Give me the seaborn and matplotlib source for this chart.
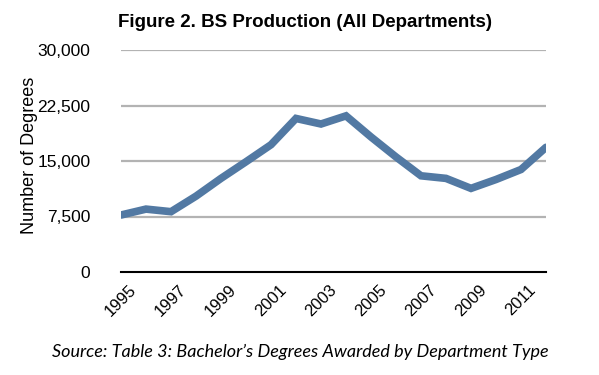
import numpy as np
import pandas as pd
import matplotlib
matplotlib.use("Agg")
import matplotlib.pyplot as plt
import seaborn as sns

# Data
years = list(range(1995, 2013))
degrees = [7700, 8500, 8150, 10250, 12650, 14900, 17200, 20750, 20000, 21100,
           18250, 15550, 13000, 12650, 11300, 12500, 13850, 16850]
y_ticks = [0, 7500, 15000, 22500, 30000]
x_label_years = [1995, 1997, 1999, 2001, 2003, 2005, 2007, 2009, 2011]

df = pd.DataFrame({"Year": years, "Degrees": degrees})

sns.set_style("white")
plt.rcParams['font.family'] = ['Liberation Sans', 'DejaVu Sans']
plt.rcParams['text.color'] = 'black'
plt.rcParams['axes.labelcolor'] = 'black'
plt.rcParams['xtick.color'] = 'black'
plt.rcParams['ytick.color'] = 'black'

fig = plt.figure(figsize=(5.99, 3.75), dpi=100)
ax = fig.add_axes([121/599, (375-272)/375, (546-121)/599, (272-50)/375])

# gridlines
for v in y_ticks[1:]:
    ax.axhline(v, color='#b3b3b3', lw=1.6, zorder=1)

sns.lineplot(data=df, x="Year", y="Degrees", ax=ax, color='#5279a3', lw=5.5,
             solid_joinstyle='miter', zorder=3)

ax.set_xlim(1995, 2012)
ax.set_ylim(0, 30000)
ax.set_yticks(y_ticks)
ax.set_yticklabels([f"{v:,}" for v in y_ticks], fontsize=12.5)
ax.set_xticks(years)
ax.set_xticklabels([str(y) if y in x_label_years else "" for y in years],
                   rotation=45, ha='center', va='top', fontsize=12)

for s in ['top', 'right', 'left']:
    ax.spines[s].set_visible(False)
ax.spines['bottom'].set_color('black')
ax.spines['bottom'].set_linewidth(1.5)
ax.tick_params(axis='x', direction='inout', length=9, width=1.3, color='black', pad=3)
ax.tick_params(axis='y', length=0, pad=22)

ax.set_xlabel("")
ax.set_ylabel("Number of Degrees", fontsize=13)
ax.yaxis.set_label_coords(-0.195, 0.525)

fig.text(0.51, 0.94, "Figure 2. BS Production (All Departments)", ha='center', va='center',
         fontsize=13.5, fontweight='bold')
fig.text(0.502, 0.062, "Source: Table 3: Bachelor\u2019s Degrees Awarded by Department Type",
         ha='center', va='center', fontsize=13, style='italic', family=['Lato', 'DejaVu Sans'])

plt.savefig("out.png", dpi=100)
